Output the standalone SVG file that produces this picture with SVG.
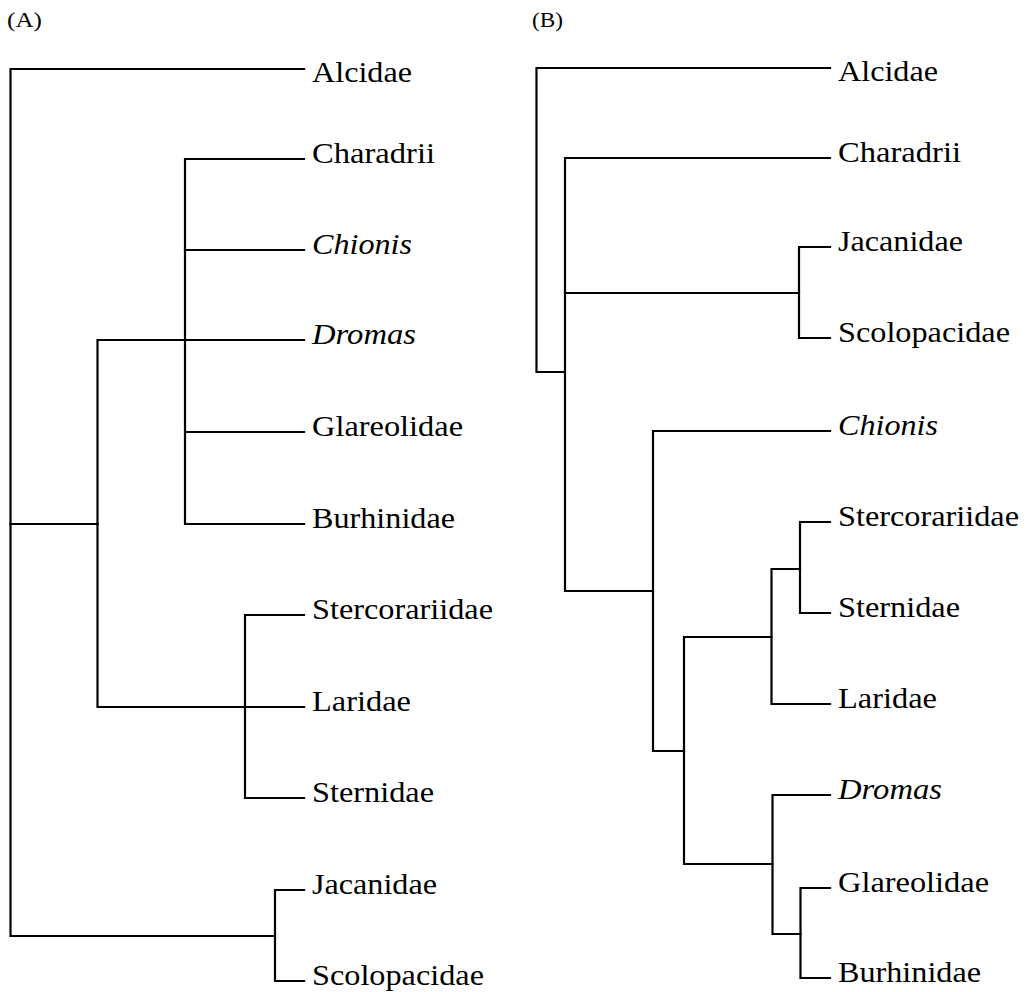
<svg xmlns="http://www.w3.org/2000/svg" width="1034" height="992" viewBox="0 0 1034 992">
<style>
.bg{fill:#fff}
.lbl{font-size:30px;fill:#000}
.it{font-style:italic}
.pan{font-size:21px;fill:#000}
.br{fill:none;stroke:#000;stroke-width:2.2;stroke-linejoin:miter;stroke-linecap:square}
</style>
<rect class="bg" x="0" y="0" width="1034" height="992"/>
<g id="panel-labels" font-family="'Liberation Serif', 'Times New Roman', Times, serif">
<text class="pan" x="7" y="27" textLength="35" lengthAdjust="spacingAndGlyphs">(A)</text>
<text class="pan" x="532" y="27" textLength="31" lengthAdjust="spacingAndGlyphs">(B)</text>
</g>
<g id="connectors">
<g id="connectors-A">
<path class="br" d="M304,69 H10.5 V936 H275"/>
<path class="br" d="M10.5,524 H97.5"/>
<path class="br" d="M304,340 H97.5 V707 H304"/>
<path class="br" d="M304,159 H185 V524 H304"/>
<path class="br" d="M185,250 H304"/>
<path class="br" d="M185,432 H304"/>
<path class="br" d="M304,615 H245 V798 H304"/>
<path class="br" d="M304,890 H275 V981 H304"/>
</g>
<g id="connectors-B">
<path class="br" d="M830,68 H536.5 V372 H565"/>
<path class="br" d="M830,158 H565 V591 H653"/>
<path class="br" d="M565,293 H799"/>
<path class="br" d="M830,247 H799 V338 H830"/>
<path class="br" d="M830,431 H653 V751 H684"/>
<path class="br" d="M771.5,637 H684 V864 H772.5"/>
<path class="br" d="M800,569 H771.5 V704 H830"/>
<path class="br" d="M830,522 H800 V613 H830"/>
<path class="br" d="M830,795 H772.5 V934 H800.5"/>
<path class="br" d="M830,888 H800.5 V978 H830"/>
</g>
</g>
<g id="tree-A" font-family="'Liberation Serif', 'Times New Roman', Times, serif">
<g id="A-Alcidae"><text class="lbl" x="312" y="82" textLength="100" lengthAdjust="spacingAndGlyphs">Alcidae</text></g>
<g id="A-Charadrii"><text class="lbl" x="312" y="163" textLength="123" lengthAdjust="spacingAndGlyphs">Charadrii</text></g>
<g id="A-Chionis"><text class="lbl it" x="312" y="254" textLength="100" lengthAdjust="spacingAndGlyphs">Chionis</text></g>
<g id="A-Dromas"><text class="lbl it" x="312" y="344" textLength="104" lengthAdjust="spacingAndGlyphs">Dromas</text></g>
<g id="A-Glareolidae"><text class="lbl" x="312" y="436" textLength="151" lengthAdjust="spacingAndGlyphs">Glareolidae</text></g>
<g id="A-Burhinidae"><text class="lbl" x="312" y="528" textLength="143" lengthAdjust="spacingAndGlyphs">Burhinidae</text></g>
<g id="A-Stercorariidae"><text class="lbl" x="312" y="619" textLength="181" lengthAdjust="spacingAndGlyphs">Stercorariidae</text></g>
<g id="A-Laridae"><text class="lbl" x="312" y="711" textLength="99" lengthAdjust="spacingAndGlyphs">Laridae</text></g>
<g id="A-Sternidae"><text class="lbl" x="312" y="802" textLength="122" lengthAdjust="spacingAndGlyphs">Sternidae</text></g>
<g id="A-Jacanidae"><text class="lbl" x="312" y="894" textLength="125" lengthAdjust="spacingAndGlyphs">Jacanidae</text></g>
<g id="A-Scolopacidae"><text class="lbl" x="312" y="985" textLength="172" lengthAdjust="spacingAndGlyphs">Scolopacidae</text></g>
</g>
<g id="tree-B" font-family="'Liberation Serif', 'Times New Roman', Times, serif">
<g id="B-Alcidae"><text class="lbl" x="838" y="81" textLength="100" lengthAdjust="spacingAndGlyphs">Alcidae</text></g>
<g id="B-Charadrii"><text class="lbl" x="838" y="162" textLength="123" lengthAdjust="spacingAndGlyphs">Charadrii</text></g>
<g id="B-Jacanidae"><text class="lbl" x="838" y="251" textLength="125" lengthAdjust="spacingAndGlyphs">Jacanidae</text></g>
<g id="B-Scolopacidae"><text class="lbl" x="838" y="342" textLength="172" lengthAdjust="spacingAndGlyphs">Scolopacidae</text></g>
<g id="B-Chionis"><text class="lbl it" x="838" y="435" textLength="100" lengthAdjust="spacingAndGlyphs">Chionis</text></g>
<g id="B-Stercorariidae"><text class="lbl" x="838" y="526" textLength="181" lengthAdjust="spacingAndGlyphs">Stercorariidae</text></g>
<g id="B-Sternidae"><text class="lbl" x="838" y="617" textLength="122" lengthAdjust="spacingAndGlyphs">Sternidae</text></g>
<g id="B-Laridae"><text class="lbl" x="838" y="708" textLength="99" lengthAdjust="spacingAndGlyphs">Laridae</text></g>
<g id="B-Dromas"><text class="lbl it" x="838" y="799" textLength="104" lengthAdjust="spacingAndGlyphs">Dromas</text></g>
<g id="B-Glareolidae"><text class="lbl" x="838" y="892" textLength="151" lengthAdjust="spacingAndGlyphs">Glareolidae</text></g>
<g id="B-Burhinidae"><text class="lbl" x="838" y="982" textLength="143" lengthAdjust="spacingAndGlyphs">Burhinidae</text></g>
</g>
</svg>
